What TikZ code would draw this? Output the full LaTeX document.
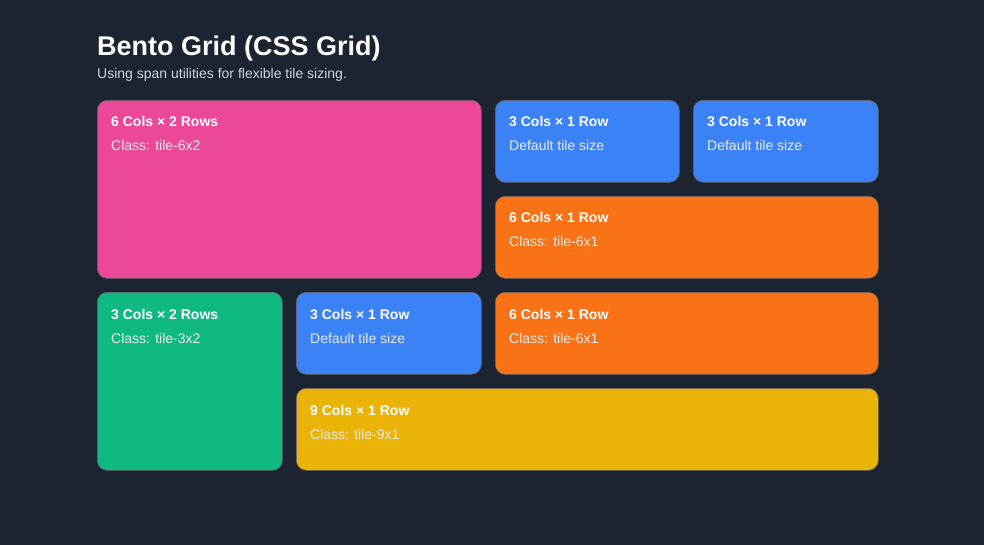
\documentclass[tikz,border=0pt]{standalone}
\usepackage{fontspec}
\setmainfont{Liberation Sans}
\usetikzlibrary{positioning}
\definecolor{bgdark}{HTML}{1C2331}
\definecolor{tilepink}{HTML}{EC4899}
\definecolor{tileblue}{HTML}{3B82F6}
\definecolor{tileorange}{HTML}{F97316}
\definecolor{tilegreen}{HTML}{10B981}
\definecolor{tileyellow}{HTML}{EAB308}
\definecolor{subgray}{HTML}{CBD5E1}

\begin{document}
\begin{tikzpicture}[x=1pt,y=-1pt,
  tile/.style={draw=black!60,line width=0.6pt,rounded corners=10pt,anchor=north west,inner sep=0pt},
  ttitle/.style={anchor=base west,inner sep=0pt,text=white,font=\fontsize{14}{16}\selectfont\bfseries},
  tsub/.style={anchor=base west,inner sep=0pt,text=white!92!black,font=\fontsize{14}{16}\selectfont}]

  \fill[bgdark] (0,0) rectangle (984,545);
  \useasboundingbox (0,0) rectangle (984,545);

  \node[anchor=base west,inner sep=0pt,text=white,font=\fontsize{27}{32}\selectfont\bfseries] (title) at (97,56) {Bento Grid (CSS Grid)};
  \node[anchor=base west,inner sep=0pt,text=subgray,font=\fontsize{14}{16}\selectfont] (subtitle) at (97,79) {Using span utilities for flexible tile sizing.};

  % tiles
  \node[tile,fill=tilepink,minimum width=384pt,minimum height=178pt] (pink) at (97,100) {};
  \node[tile,fill=tileblue,minimum width=184pt,minimum height=82pt] (blueA) at (495,100) {};
  \node[tile,fill=tileblue,minimum width=185pt,minimum height=82pt] (blueB) at (693,100) {};
  \node[tile,fill=tileorange,minimum width=383pt,minimum height=82pt] (orangeA) at (495,196) {};
  \node[tile,fill=tilegreen,minimum width=185pt,minimum height=178pt] (green) at (97,292) {};
  \node[tile,fill=tileblue,minimum width=185pt,minimum height=82pt] (blueC) at (296,292) {};
  \node[tile,fill=tileorange,minimum width=383pt,minimum height=82pt] (orangeB) at (495,292) {};
  \node[tile,fill=tileyellow,minimum width=582pt,minimum height=82pt] (yellow) at (296,388) {};

  % labels
  \foreach \t/\a/\b in {pink/6 Cols × 2 Rows/Class: tile-6x2,
      blueA/3 Cols × 1 Row/Default tile size,
      blueB/3 Cols × 1 Row/Default tile size,
      orangeA/6 Cols × 1 Row/Class: tile-6x1,
      green/3 Cols × 2 Rows/Class: tile-3x2,
      blueC/3 Cols × 1 Row/Default tile size,
      orangeB/6 Cols × 1 Row/Class: tile-6x1,
      yellow/9 Cols × 1 Row/Class: tile-9x1} {
    \node[ttitle] (\t-head) at ([xshift=14pt,yshift=-27pt]\t.north west) {\a};
    \node[tsub] (\t-note) at ([xshift=14pt,yshift=-51pt]\t.north west) {\b};
  }
\end{tikzpicture}
\end{document}
